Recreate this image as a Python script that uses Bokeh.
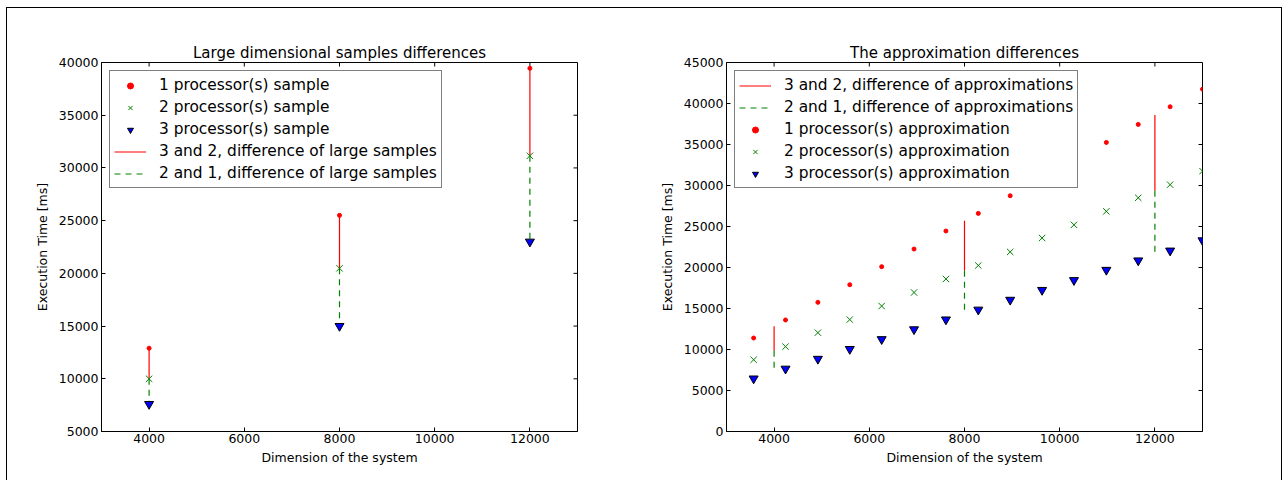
import math
from bokeh.plotting import figure
from bokeh.layouts import row
from bokeh.models import FixedTicker, Legend, LegendItem, Range1d
from bokeh.embed import file_html
from bokeh.resources import INLINE

# ---------------- data ----------------
sample_dims = [4000, 8000, 12000]
sample_p1 = [12900, 25500, 39450]
sample_p2 = [10000, 20480, 31150]
sample_p3 = [7600, 15000, 23000]

approx_dims = [3570, 4240, 4920, 5590, 6260, 6940, 7610, 8290, 8960, 9630,
               10300, 10980, 11650, 12320, 13000]
approx_p1 = [11400, 13600, 15750, 17900, 20100, 22250, 24450, 26600, 28750,
             30900, 33100, 35250, 37450, 39600, 41750]
approx_p2 = [8750, 10350, 12050, 13650, 15300, 16950, 18600, 20250, 21900,
             23600, 25200, 26850, 28500, 30100, 31750]
approx_p3 = [6450, 7650, 8850, 10050, 11250, 12450, 13650, 14850, 16050,
             17250, 18450, 19700, 20850, 22050, 23300]

diff_dims = [4000, 8000, 12000]
diff_p1 = [12850, 25700, 38600]
diff_p2 = [9850, 19600, 29350]
diff_p3 = [7500, 14300, 21450]

x_min, x_max = 3000, 13000
x_ticks = [4000, 6000, 8000, 10000, 12000]
left_y_range = (5000, 40000)
left_y_ticks = [5000, 10000, 15000, 20000, 25000, 30000, 35000, 40000]
right_y_range = (0, 45000)
right_y_ticks = [0, 5000, 10000, 15000, 20000, 25000, 30000, 35000, 40000, 45000]

left_title = "Large dimensional samples differences"
right_title = "The approximation differences"
x_label = "Dimension of the system"
y_label = "Execution Time [ms]"

RED = "#ff0000"
GREEN = "#008000"
BLUE = "#0000ff"
FONT = "DejaVu Sans"

FRAME_W, FRAME_H = 476, 369
TOP, BOTTOM = 54, 50


def make_fig(title, yr, yticks, bl, br):
    p = figure(frame_width=FRAME_W, frame_height=FRAME_H,
               min_border_left=bl, min_border_right=br,
               min_border_top=TOP, min_border_bottom=BOTTOM,
               x_range=Range1d(x_min, x_max), y_range=Range1d(*yr),
               output_backend="svg", toolbar_location=None,
               x_axis_label=x_label, y_axis_label=y_label)
    p.title.text = title
    p.title.align = "center"
    p.title.text_font = FONT
    p.title.text_font_size = "15px"
    p.title.text_font_style = "normal"
    p.title.text_color = "black"
    p.title.standoff = 2
    p.grid.visible = False
    p.outline_line_color = "black"
    p.outline_line_width = 1
    p.background_fill_color = "white"
    p.border_fill_color = "white"
    for ax, tk, ls, als in ((p.xaxis[0], x_ticks, 2, 4),
                            (p.yaxis[0], yticks, 3, 6)):
        ax.ticker = FixedTicker(ticks=tk)
        ax.major_tick_in = 4
        ax.major_tick_out = 0
        ax.minor_tick_line_color = None
        ax.axis_line_color = "black"
        ax.major_tick_line_color = "black"
        ax.major_label_text_font = FONT
        ax.major_label_text_font_size = "12.5px"
        ax.major_label_text_color = "black"
        ax.major_label_standoff = ls
        ax.axis_label_text_font = FONT
        ax.axis_label_text_font_size = "12.5px"
        ax.axis_label_text_font_style = "normal"
        ax.axis_label_text_color = "black"
        ax.axis_label_standoff = als
    # inward tick marks on the top and right spines (matplotlib style)
    p.ray(x=x_ticks, y=[yr[1]] * len(x_ticks), angle=-math.pi / 2,
          length=4, length_units="screen", line_color="black", line_width=1)
    p.ray(x=[x_max] * len(yticks), y=yticks, angle=math.pi,
          length=4, length_units="screen", line_color="black", line_width=1)
    return p


def style_legend(p, items):
    leg = Legend(items=items, location="top_left",
                 label_text_font=FONT, label_text_font_size="15.4px",
                 label_text_color="black",
                 label_height=20, glyph_height=15, glyph_width=32,
                 label_standoff=13, spacing=2, padding=4, margin=8,
                 border_line_color="black", border_line_width=1,
                 background_fill_color="white", background_fill_alpha=1.0)
    p.add_layout(leg)


# ---------------- left figure ----------------
p1 = make_fig(left_title, left_y_range, left_y_ticks, 94, 64)
l_red = p1.segment(x0=sample_dims, y0=sample_p1, x1=sample_dims, y1=sample_p2,
                   line_color=RED, line_width=1.2)
l_green = p1.segment(x0=sample_dims, y0=sample_p2, x1=sample_dims, y1=sample_p3,
                     line_color=GREEN, line_width=1.2, line_dash="6 5")
s1 = p1.scatter(sample_dims, sample_p1, marker="circle", size=4,
                fill_color=RED, line_color=RED)
s2 = p1.scatter(sample_dims, sample_p2, marker="x", size=9,
                line_color=GREEN, line_width=1)
s3 = p1.scatter(sample_dims, sample_p3, marker="inverted_triangle", size=9,
                fill_color=BLUE, line_color="black", line_width=1)
style_legend(p1, [
    LegendItem(label="1 processor(s) sample", renderers=[s1]),
    LegendItem(label="2 processor(s) sample", renderers=[s2]),
    LegendItem(label="3 processor(s) sample", renderers=[s3]),
    LegendItem(label="3 and 2, difference of large samples", renderers=[l_red]),
    LegendItem(label="2 and 1, difference of large samples", renderers=[l_green]),
])

# ---------------- right figure ----------------
p2 = make_fig(right_title, right_y_range, right_y_ticks, 85, 79)
r_red = p2.segment(x0=diff_dims, y0=diff_p1, x1=diff_dims, y1=diff_p2,
                   line_color=RED, line_width=1.2)
r_green = p2.segment(x0=diff_dims, y0=diff_p2, x1=diff_dims, y1=diff_p3,
                     line_color=GREEN, line_width=1.2, line_dash="6 5")
a1 = p2.scatter(approx_dims, approx_p1, marker="circle", size=4,
                fill_color=RED, line_color=RED)
a2 = p2.scatter(approx_dims, approx_p2, marker="x", size=9,
                line_color=GREEN, line_width=1)
a3 = p2.scatter(approx_dims, approx_p3, marker="inverted_triangle", size=9,
                fill_color=BLUE, line_color="black", line_width=1)
style_legend(p2, [
    LegendItem(label="3 and 2, difference of approximations", renderers=[r_red]),
    LegendItem(label="2 and 1, difference of approximations", renderers=[r_green]),
    LegendItem(label="1 processor(s) approximation", renderers=[a1]),
    LegendItem(label="2 processor(s) approximation", renderers=[a2]),
    LegendItem(label="3 processor(s) approximation", renderers=[a3]),
])

layout = row(p1, p2, styles={"border-top": "1px solid black",
                             "border-left": "1px solid black",
                             "border-right": "1px solid black",
                             "margin-left": "6px", "margin-top": "7px"})

open("out.html", "w").write(file_html(layout, INLINE))
